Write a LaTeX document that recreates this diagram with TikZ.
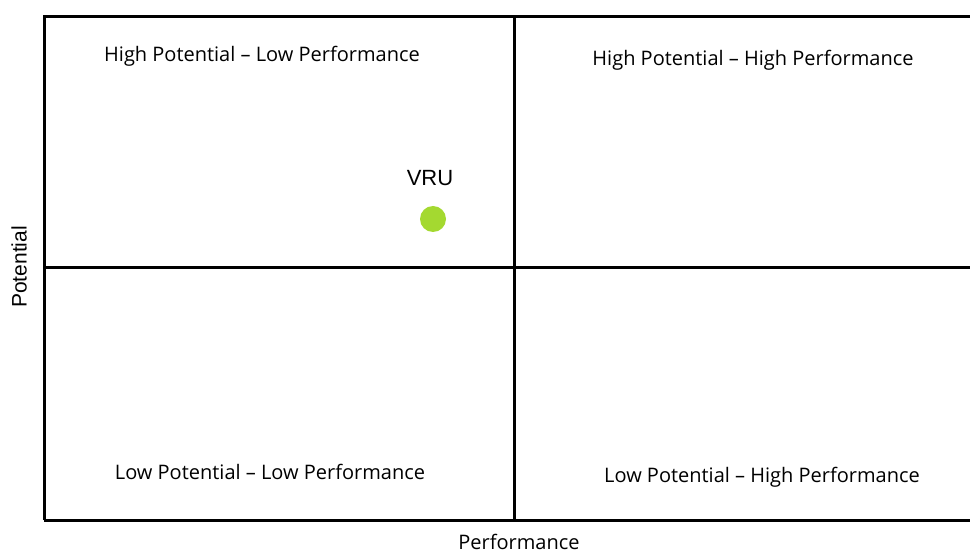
\documentclass[tikz,border=0pt]{standalone}
\usepackage{fontspec}
\setmainfont{Open Sans}
\newfontfamily\arialfont{Liberation Sans}
\definecolor{dotgreen}{RGB}{164,217,48}
\begin{document}
\begin{tikzpicture}[x=1pt, y=-1pt,
    quadlabel/.style={font=\fontsize{20}{22}\selectfont, inner sep=0pt},
    axislabel/.style={font=\fontsize{20}{22}\selectfont, inner sep=0pt}]
        % Area della figura
        \useasboundingbox (0,0) rectangle (970,553);

        % Riquadro e quadranti
        \draw[line width=3pt, black] (44,520) -- (44,17) -- (975,17);
        \draw[line width=3pt, black] (44,520) -- (975,520);
        \draw[line width=3pt, black] (514,17) -- (514,520);
        \draw[line width=3pt, black] (44,268) -- (975,268);

        % Etichette dei quadranti
        \node[quadlabel] (hplp) at (262,56) {High Potential – Low Performance};
        \node[quadlabel] (hphp) at (753,60) {High Potential – High Performance};
        \node[quadlabel] (lplp) at (270,472) {Low Potential – Low Performance};
        \node[quadlabel] (lphp) at (762,477) {Low Potential – High Performance};

        % Punto VRU
        \fill[dotgreen] (433,219) circle (13);
        \node[font=\arialfont\fontsize{22}{24}\selectfont, inner sep=0pt] (vru) at (430,178) {VRU};

        % Assi
        \node[font=\arialfont\fontsize{21}{23}\selectfont, inner sep=0pt, rotate=90] (potential) at (19,267) {Potential};
        \node[axislabel, anchor=base] (performance) at (519,549) {Performance};

    \end{tikzpicture}
\end{document}
